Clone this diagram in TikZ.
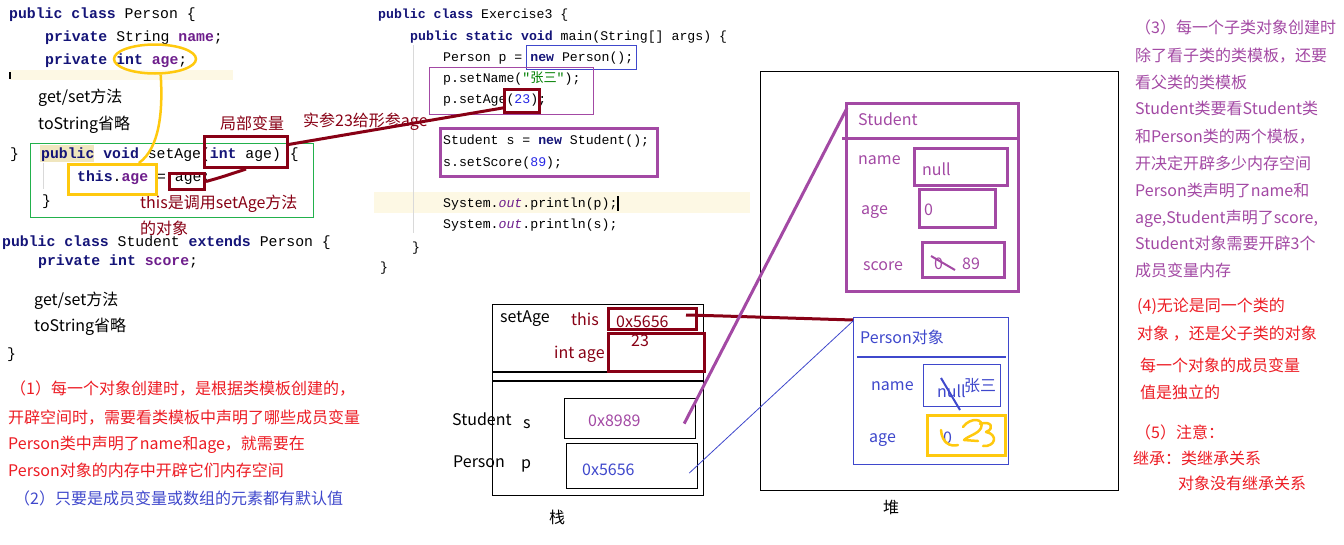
\documentclass[tikz,border=0pt]{standalone}
\usepackage{fontspec}
\setmainfont{Noto Sans CJK SC}
\setmonofont{Liberation Mono}
\newfontfamily\cjk{Noto Sans CJK SC}
\usetikzlibrary{shapes.geometric,calc}
\definecolor{jkw}{RGB}{20,20,120}
\definecolor{jfd}{RGB}{110,30,140}
\definecolor{jnum}{RGB}{40,40,230}
\definecolor{jstr}{RGB}{0,128,0}
\definecolor{pbrown}{RGB}{136,0,21}
\definecolor{pyellow}{RGB}{255,201,14}
\definecolor{pblue}{RGB}{63,72,204}
\definecolor{pred}{RGB}{237,28,36}
\definecolor{ppurple}{RGB}{163,73,164}
\definecolor{pgreen}{RGB}{34,177,76}
\definecolor{hl}{RGB}{253,248,228}
\definecolor{hlkw}{RGB}{240,230,190}
\newcommand{\jK}[1]{{\bfseries\color{jkw}#1}}
\newcommand{\jF}[1]{{\bfseries\color{jfd}#1}}
\tikzset{
  codeL/.style={anchor=base west, inner sep=0pt, font=\ttfamily\fontsize{14.8}{16}\selectfont},
  codeM/.style={anchor=base west, inner sep=0pt, font=\ttfamily\fontsize{13.2}{15}\selectfont},
  txt/.style={anchor=base west, inner sep=0pt, font=\fontsize{16}{18}\selectfont},
  bx/.style={draw, inner sep=0pt, anchor=north west},
  thin/.style={line width=1.2pt},
  thick/.style={line width=3pt},
  brn/.style={draw=pbrown, line width=3pt},
  ylw/.style={draw=pyellow, line width=3pt},
  ppl/.style={draw=ppurple, line width=3pt},
}
\begin{document}
\begin{tikzpicture}[x=1pt,y=-1pt]
\fill[white] (0,0) rectangle (1344,544);
\useasboundingbox (0,0) rectangle (1344,544);
% highlights
\fill[hl] (10,70) rectangle (233,80);
\draw[black, line width=1.5pt] (10,72) -- (10,79);
\fill[hl] (374,192) rectangle (750,213);
\fill[hlkw] (40,145) rectangle (94,162);
\draw[black!15, line width=1pt] (413,45) -- (413,233);
\draw[black!15, line width=1pt] (43,163) -- (43,189);
\draw[black, line width=1.2pt] (618,196) -- (618,211);
% left code
\node[codeL] (l1) at (9,18) {\jK{public class} Person \{};
\node[codeL] (l2) at (45,41) {\jK{private} String \jF{name};};
\node[codeL] (l3) at (45,64) {\jK{private int} \jF{age};};
\node[txt] (l4) at (38,102) {get/set方法};
\node[txt] (l5) at (38,129) {toString省略};
\node[codeL] (l6) at (10,158) {\}};
\node[codeL] (l7) at (41,158) {\jK{public void} setAge(\jK{int} age) \{};
\node[codeL] (l8) at (77,181) {\jK{this}.\jF{age} = age;};
\node[codeL] (l9) at (42,205) {\}};
\node[txt, pbrown] (n1) at (140,208) {this是调用setAge方法};
\node[txt, pbrown] (n2) at (140,234) {的对象};
\node[codeL] (l10) at (2,246) {\jK{public class} Student \jK{extends} Person \{};
\node[codeL] (l11) at (38,265) {\jK{private int} \jF{score};};
\node[txt] (l12) at (34,305) {get/set方法};
\node[txt] (l13) at (34,331) {toString省略};
\node[codeL] (l14) at (7,358) {\}};
\node[txt, pred] (r1) at (10,394) {（1）每一个对象创建时，是根据类模板创建的，};
\node[txt, pred] (r2) at (8,423) {开辟空间时，需要看类模板中声明了哪些成员变量};
\node[txt, pred] (r3) at (8,449) {Person类中声明了name和age，就需要在};
\node[txt, pred] (r4) at (8,476) {Person对象的内存中开辟它们内存空间};
\node[txt, pblue] (r5) at (14,504) {（2）只要是成员变量或数组的元素都有默认值};
\node[txt, pbrown] (lv) at (220,129) {局部变量};
\node[txt, pbrown] (sc) at (303,126) {实参23给形参age};
% middle code
\node[codeM] (m1) at (378,18) {\jK{public class} Exercise3 \{};
\node[codeM] (m2) at (410,40) {\jK{public static void} main(String[] args) \{};
\node[codeM] (m3) at (443,61) {Person p = \jK{new} Person();};
\node[codeM] (m4) at (443,82) {p.setName(\textcolor{jstr}{"{\cjk 张三}"});};
\node[codeM] (m5) at (443,103) {p.setAge(\textcolor{jnum}{23});};
\node[codeM] (m6) at (443,144) {Student s = \jK{new} Student();};
\node[codeM] (m7) at (443,166) {s.setScore(\textcolor{jnum}{89});};
\node[codeM] (m8) at (443,207) {System.\textit{\textcolor{jfd}{out}}.println(p);};
\node[codeM] (m9) at (443,228) {System.\textit{\textcolor{jfd}{out}}.println(s);};
\node[codeM] (m10) at (412,251) {\}};
\node[codeM] (m11) at (380,271) {\}};
% code boxes
\node[bx, draw=pgreen, line width=1pt, minimum width=283pt, minimum height=74pt] (greenBox) at (30,143) {};
\node[ellipse, draw=pyellow, line width=2.5pt, minimum width=82pt, minimum height=29pt, inner sep=0pt] (ageEll) at (155,59) {};
\node[bx, ylw, minimum width=88pt, minimum height=30pt] (thisAgeBox) at (67,163) {};
\node[bx, brn, minimum width=83pt, minimum height=31pt] (intAgeBox) at (203,135) {};
\node[bx, brn, minimum width=35pt, minimum height=16pt] (ageBox) at (168,172) {};
\node[bx, draw=pblue, thin, minimum width=110pt, minimum height=24pt] (newPersonBox) at (526,45) {};
\node[bx, draw=ppurple, thin, minimum width=164pt, minimum height=47pt] (setBox) at (429,67) {};
\node[bx, ppl, minimum width=217pt, minimum height=48pt] (studBox) at (439,127) {};
\node[bx, brn, minimum width=35pt, minimum height=23pt] (box23) at (503,88) {};
% stack
\node[bx, thin, minimum width=211pt, minimum height=191pt] (stack) at (492,304) {};
\draw[thin] (492,372) -- (703,372);
\draw[thin] (492,381) -- (703,381);
\node[bx, brn, minimum width=88pt, minimum height=21pt] (thisBox) at (607,307) {};
\node[bx, brn, minimum width=96pt, minimum height=38pt] (ageStack) at (607,332) {};
\node[bx, thin, minimum width=131pt, minimum height=40pt] (sBox) at (564,398) {};
\node[bx, thin, minimum width=131pt, minimum height=45pt] (pBox) at (566,443) {};
\node[txt] (t1) at (500,322) {setAge};
\node[txt, pbrown] (t2) at (571,325) {this};
\node[txt, pbrown] (t3) at (616,327) {0x5656};
\node[txt, pbrown] (t4) at (554,358) {int age};
\node[txt, pbrown] (t5) at (631,346) {23};
\node[txt] (t6) at (452,425) {Student};
\node[txt] (t7) at (523,428) {s};
\node[txt, ppurple] (t8) at (588,426) {0x8989};
\node[txt] (t9) at (453,467) {Person};
\node[txt] (t10) at (521,468) {p};
\node[txt, pblue] (t11) at (582,475) {0x5656};
\node[txt] (zhan) at (549,523) {栈};
% heap
\node[bx, thin, minimum width=358pt, minimum height=419pt] (heap) at (760,71) {};
\node[txt] (dui) at (883,513) {堆};
\node[bx, ppl, minimum width=172pt, minimum height=188pt] (studentObj) at (845,102) {};
\draw[ppl] (842,138) -- (1019,138);
\node[bx, ppl, minimum width=93pt, minimum height=37pt] (studName) at (913,147) {};
\node[bx, ppl, minimum width=76pt, minimum height=38pt] (studAge) at (918,188) {};
\node[bx, ppl, minimum width=82pt, minimum height=35pt] (studScore) at (921,241) {};
\node[txt, ppurple] (h1) at (858,125) {Student};
\node[txt, ppurple] (h2) at (858,164) {name};
\node[txt, ppurple] (h3) at (922,175) {null};
\node[txt, ppurple] (h4) at (861,214) {age};
\node[txt, ppurple] (h5) at (924,215) {0};
\node[txt, ppurple] (h6) at (863,270) {score};
\node[txt, ppurple] (h7) at (934,269) {0};
\node[txt, ppurple] (h8) at (962,269) {89};
\draw[ppurple, line width=2pt] (931,256) -- (955,270);
\node[bx, draw=pblue, thin, minimum width=155pt, minimum height=147pt] (personObj) at (853,317) {};
\draw[pblue, thin] (857,357) -- (1006,357);
\node[bx, draw=pblue, thin, minimum width=77pt, minimum height=42pt] (persName) at (923,364) {};
\node[bx, ylw, minimum width=78pt, minimum height=40pt] (persAge) at (926,414) {};
\node[txt, pblue] (g1) at (860,343) {Person对象};
\node[txt, pblue] (g2) at (871,390) {name};
\node[txt, pblue] (g3) at (937,397) {null};
\node[txt, pblue] (g4) at (964,391) {张三};
\node[txt, pblue] (g5) at (869,442) {age};
\node[txt, pblue] (g6) at (943,443) {0};
\draw[pblue, line width=2pt] (941,378) -- (960,410);
\draw[pyellow, line width=2.5pt, line cap=round]
  (941,430) .. controls (942,443) and (950,447) .. (958,445);
\draw[pyellow, line width=2.5pt, line cap=round, line join=round]
  (963,427) .. controls (970,417) and (985,418) .. (981,428)
  .. controls (978,434) and (968,436) .. (964,440) -- (978,441);
\draw[pyellow, line width=2.5pt, line cap=round, line join=round]
  (980,424) .. controls (990,420) and (996,428) .. (986,432)
  .. controls (998,434) and (996,447) .. (983,446);
% right column
\node[txt, ppurple] (c1) at (1135,33) {（3）每一个子类对象创建时};
\node[txt, ppurple] (c2) at (1135,61) {除了看子类的类模板，还要};
\node[txt, ppurple] (c3) at (1135,88) {看父类的类模板};
\node[txt, ppurple] (c4) at (1135,114) {Student类要看Student类};
\node[txt, ppurple] (c5) at (1135,142) {和Person类的两个模板，};
\node[txt, ppurple] (c6) at (1135,169) {开决定开辟多少内存空间};
\node[txt, ppurple] (c7) at (1135,196) {Person类声明了name和};
\node[txt, ppurple] (c8) at (1135,223) {age,Student声明了score,};
\node[txt, ppurple] (c9) at (1135,249) {Student对象需要开辟3个};
\node[txt, ppurple] (c10) at (1135,276) {成员变量内存};
\node[txt, pred] (d1) at (1137,311) {(4)无论是同一个类的};
\node[txt, pred] (d2) at (1137,339) {对象 ，还是父子类的对象};
\node[txt, pred] (d3) at (1140,371) {每一个对象的成员变量};
\node[txt, pred] (d4) at (1140,398) {值是独立的};
\node[txt, pred] (d5) at (1135,438) {（5）注意：};
\node[txt, pred] (d6) at (1133,464) {继承：类继承关系};
\node[txt, pred] (d7) at (1178,489) {对象没有继承关系};
% connectors
\draw[ylw, line width=2.5pt] (ageEll.-70) .. controls (163,110) and (160,148) .. (thisAgeBox.32);
\draw[brn] (ageBox.east) .. controls (222,177) .. (intAgeBox.south);
\draw[brn] (intAgeBox.10) -- (box23.200);
\draw[brn] ($(thisBox.east)+(-12,-4)$) -- ($(thisBox.east)+(25,-3)$) -- ($(personObj.north west)+(0,3)$);
\draw[ppl] ($(sBox.east)+(-12,5)$) -- ($(studentObj.north west)+(2,6)$);
\draw[pblue, line width=0.8pt] ($(pBox.east)+(-9,7)$) -- ($(personObj.north west)+(0,4)$);
\end{tikzpicture}
\end{document}
